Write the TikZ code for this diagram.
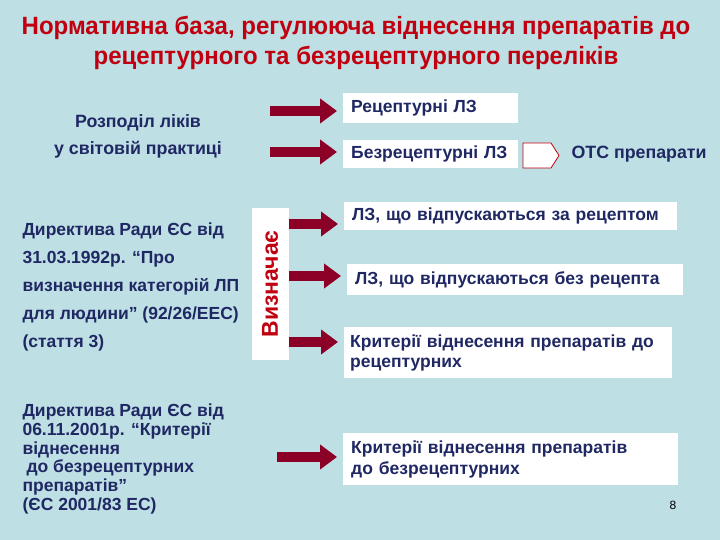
\documentclass[tikz,border=0pt]{standalone}
\usepackage{fontspec}
\setmainfont{Liberation Sans}
\newfontfamily\titlefont[FakeStretch=0.96]{Liberation Sans}
\usepackage{tikz}
\usetikzlibrary{calc, shapes, arrows.meta}

\definecolor{bgblue}{RGB}{190,223,227}
\definecolor{titlered}{RGB}{192,0,16}
\definecolor{navy}{RGB}{32,40,100}
\definecolor{arrowred}{RGB}{140,0,40}

\tikzset{
    lbl/.style={text=navy, font=\bfseries\fontsize{17.5}{20}\selectfont},
    wbox/.style={fill=white, anchor=north west, align=left, inner xsep=8pt, inner ysep=0pt,
        text=navy, font=\bfseries\fontsize{17.5}{20}\selectfont},
    bigarrow/.style={draw=arrowred, line width=10pt, -{Triangle[length=17pt,width=24pt]}, shorten >=6pt}
}

\begin{document}
\begin{tikzpicture}[x=1pt, y=-1pt]
    \fill [bgblue] (0,0) rectangle (720,540);
    \useasboundingbox (0,0) rectangle (720,540);

    \node (title) [align=center, text=titlered, font=\titlefont\bfseries\fontsize{25}{30}\selectfont] at (356,43)
        {Нормативна база, регулююча віднесення препаратів до\\рецептурного та безрецептурного переліків};

    \node (rozp) [lbl, font=\bfseries\fontsize{17.8}{20}\selectfont] at (138,123) {Розподіл ліків};
    \node (svit) [lbl, font=\bfseries\fontsize{17.8}{20}\selectfont] at (138,150) {у світовій практиці};

    \node (rec) [wbox, text width=159, minimum height=30] at (343,93) {Рецептурні ЛЗ};
    \node (bez) [wbox, text width=159, minimum height=28] at (343,140) {Безрецептурні ЛЗ};
    \filldraw [fill=white, draw=titlered, line width=0.8] (523,143) -- (551,143) -- (559,155.5) -- (551,168) -- (523,168) -- cycle;
    \node (otc) [lbl, anchor=west, font=\bfseries\fontsize{17.8}{20}\selectfont] at (568,154) {ОТС препарати};

    \coordinate (s1) at (270,111);
    \coordinate (s2) at (270,152);
    \draw [bigarrow] (s1) -- (rec.west |- s1);
    \draw [bigarrow] (s2) -- (bez.west |- s2);

    \node (dir1) [lbl, anchor=west, align=left, font=\bfseries\fontsize{17.5}{27.8}\selectfont] at (19,287)
        {Директива Ради ЄС від\\31.03.1992р. “Про\\визначення категорій ЛП\\для людини” (92/26/EEC)\\(стаття 3)};

    \node (viz) [fill=white, rotate=90, minimum width=152, minimum height=37, inner sep=0pt,
        text=titlered, font=\bfseries\fontsize{23}{26}\selectfont] at (270,284) {Визначає};

    \node (zl1) [wbox, text width=317, minimum height=28] at (344,202) {ЛЗ, що відпускаються за рецептом};
    \node (zl2) [wbox, text width=320, minimum height=31] at (347,264) {ЛЗ, що відпускаються без рецепта};
    \node (kr1) [wbox, text width=316, minimum height=51, inner xsep=6pt] at (344,327) {Критерії віднесення препаратів  до\\рецептурних};

    \coordinate (v1) at (289,224);
    \coordinate (v2) at (289,276);
    \coordinate (v3) at (289,342);
    \draw [bigarrow] (v1) -- (zl1.west |- v1);
    \draw [bigarrow] (v2) -- (zl2.west |- v2);
    \draw [bigarrow] (v3) -- (kr1.west |- v3);

    \node (dir2) [lbl, anchor=west, align=left, font=\bfseries\fontsize{17.5}{18.8}\selectfont] at (19,459)
        {Директива Ради ЄС від\\06.11.2001р. “Критерії\\віднесення\\\hspace*{4pt}до безрецептурних\\препаратів”\\(ЄС 2001/83 ЕС)};

    \node (kr2) [wbox, text width=319, minimum height=52, font=\bfseries\fontsize{17.5}{21}\selectfont] at (343,433)
        {Критерії віднесення препаратів\\до безрецептурних};
    \coordinate (s3) at (277,457);
    \draw [bigarrow] (s3) -- (kr2.west |- s3);

    \node (num) [font=\fontsize{12}{14}\selectfont] at (673,505) {8};
\end{tikzpicture}
\end{document}
